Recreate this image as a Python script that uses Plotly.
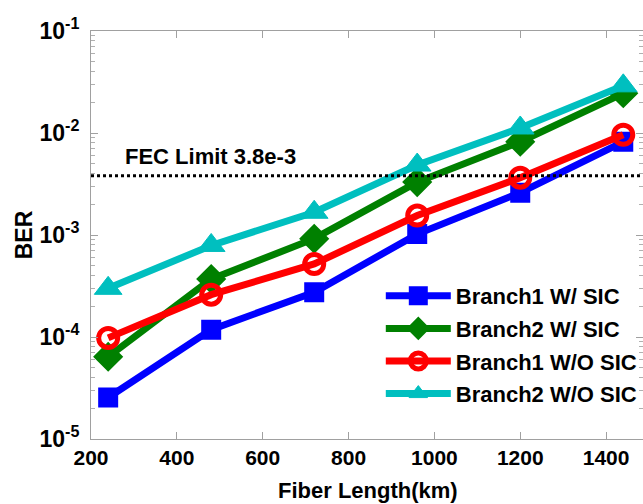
import math
import plotly.graph_objects as go

fiber_km = [240, 480, 720, 960, 1200, 1440]
b1_sic = [2.55e-5, 1.18e-4, 2.75e-4, 1.02e-3, 2.6e-3, 8.2e-3]
b2_sic = [6.4e-5, 3.7e-4, 9.2e-4, 3.3e-3, 8.2e-3, 2.45e-2]
b1_nosic = [9.8e-5, 2.6e-4, 5.2e-4, 1.55e-3, 3.65e-3, 9.6e-3]
b2_nosic = [3.0e-4, 7.9e-4, 1.67e-3, 4.85e-3, 1.12e-2, 2.9e-2]
fec_limit = 3.8e-3

y_tickvals = [1e-5, 1e-4, 1e-3, 1e-2, 1e-1]
y_ticktext = ["10<sup>-5</sup>", "10<sup>-4</sup>", "10<sup>-3</sup>", "10<sup>-2</sup>", "10<sup>-1</sup>"]
y_minor = [m * 10.0 ** e for e in range(-5, -1) for m in range(2, 10)]
x_tickvals = [200, 400, 600, 800, 1000, 1200, 1400]

font_family = "Liberation Sans, Arial, sans-serif"

fig = go.Figure()

series = [
    ("Branch1 W/ SIC", b1_sic, "#0000ff", "square", 17, 3),
    ("Branch2 W/ SIC", b2_sic, "#008000", "diamond", 21, 2),
    ("Branch1 W/O SIC", b1_nosic, "#ff0000", "circle-open", 19, 5),
    ("Branch2 W/O SIC", b2_nosic, "#00bfbf", "triangle-up", 24, 1),
]
for i, (name, ys, color, sym, size, lw) in enumerate(series):
    fig.add_trace(go.Scatter(
        x=fiber_km, y=ys, name="<b>%s</b>" % name, mode="lines+markers",
        legendgroup="g%d" % i,
        line=dict(color=color, width=7),
        marker=dict(symbol=sym, size=size, color=color,
                    line=dict(color=color, width=lw)),
    ))

fig.add_shape(type="line", xref="paper", x0=0, x1=1, yref="y",
              y0=fec_limit, y1=fec_limit,
              line=dict(color="black", width=3, dash="dot"))
fig.add_annotation(x=0.058, xref="paper", y=math.log10(fec_limit), yref="y",
                   text="<b>FEC Limit 3.8e-3</b>", showarrow=False,
                   xanchor="left", yanchor="bottom", yshift=5,
                   font=dict(family=font_family, size=22, color="black"))
fig.add_annotation(x=0.502, xref="paper", y=-0.125, yref="paper",
                   text="<b>Fiber Length(km)</b>", showarrow=False,
                   xanchor="center", yanchor="middle",
                   font=dict(family=font_family, size=22, color="black"))

axis_common = dict(
    showgrid=False, zeroline=False, showline=True, linecolor="#a0a0a0",
    linewidth=1, mirror="ticks", ticks="inside", ticklen=7, tickcolor="#a0a0a0",
    automargin=False,
)

fig.update_xaxes(range=[200, 1486], tickvals=x_tickvals,
                 ticktext=["<b>%d</b>" % v for v in x_tickvals],
                 tickfont=dict(family=font_family, size=21, color="black"),
                 **axis_common)
fig.update_yaxes(type="log", range=[-5, -1], tickvals=y_tickvals,
                 ticktext=["<b>%s</b>" % t for t in y_ticktext],
                 tickfont=dict(family=font_family, size=23, color="black"),
                 ticklabelstandoff=6,
                 minor=dict(ticks="inside", ticklen=4, tickcolor="#b0b0b0",
                            showgrid=False, tickvals=y_minor),
                 title=dict(text="<b>BER</b>", standoff=0,
                            font=dict(family=font_family, size=23, color="black")),
                 **axis_common)

fig.update_layout(
    width=643, height=504,
    margin=dict(l=91, r=0, t=31, b=65),
    paper_bgcolor="white", plot_bgcolor="white",
    showlegend=True,
    legend=dict(x=0.525, xanchor="left", y=0.402, yanchor="top",
                bgcolor="rgba(255,255,255,0)", borderwidth=0,
                itemwidth=65, tracegroupgap=1,
                font=dict(family=font_family, size=22, color="black")),
    font=dict(family=font_family),
)

fig.write_html(
    "out.html",
    config={"displayModeBar": False},
    post_script="document.body.style.margin='0';document.body.style.overflow='hidden';",
)
